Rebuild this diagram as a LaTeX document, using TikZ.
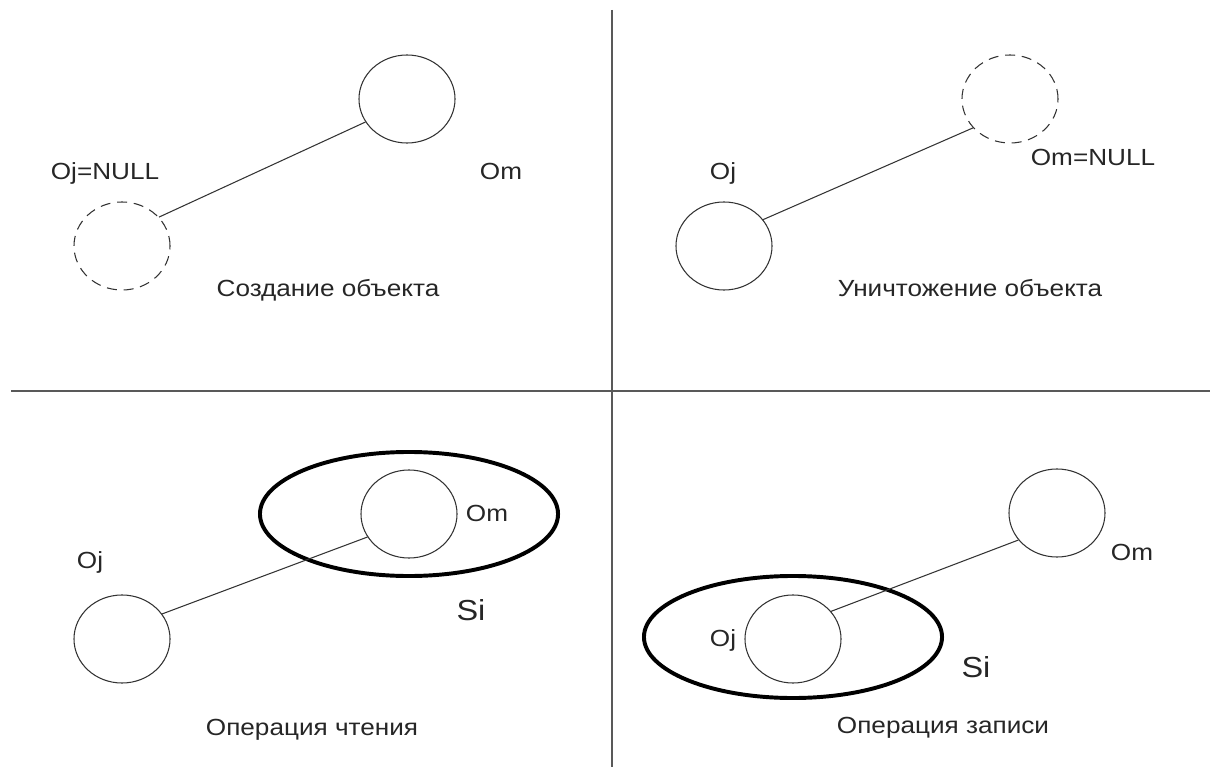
\documentclass[tikz,border=0pt]{standalone}
\usepackage{fontspec}
\setmainfont{Liberation Sans}[FakeStretch=1.12]
\usetikzlibrary{shapes.geometric,positioning}

\begin{document}
\begin{tikzpicture}[x=0.025cm, y=-0.025cm,
    obj/.style={ellipse, draw=black!80, line width=0.75pt, inner sep=0pt,
        minimum width=2.4cm, minimum height=2.2cm},
    nullobj/.style={obj, dash pattern=on 0.25cm off 0.17cm},
    setbox/.style={ellipse, draw=black, line width=2.8pt, inner sep=0pt,
        minimum width=7.45cm},
    link/.style={draw=black!80, line width=0.75pt},
    lbl/.style={anchor=base, inner sep=0pt, text=black!85,
        font=\fontsize{16.6}{20}\selectfont},
    setlbl/.style={lbl, font=\fontsize{20.6}{24}\selectfont},
    sep/.style={draw=black!65, line width=1.4pt}]
    \useasboundingbox (0,0) rectangle (1210,767);

    % Dividers
    \coordinate (hl) at (11,391);
    \coordinate (hr) at (1210,391);
    \coordinate (vt) at (612,10);
    \coordinate (vb) at (612,767);
    \draw[sep] (hl) -- (hr);
    \draw[sep] (vt) -- (vb);

    % Creation
    \node[nullobj] (ojA) at (122,246) {};
    \node[obj] (omA) at (407,99) {};
    \draw[link] (ojA.38) -- (omA.209);
    \node[lbl] (ojAl) at (105,180) {Oj=NULL};
    \node[lbl] (omAl) at (501,180) {Om};
    \node[lbl] (capA) at (328,296) {Создание объекта};

    % Destruction
    \node[obj] (ojB) at (724,246) {};
    \node[nullobj] (omB) at (1010,99) {};
    \draw[link] (ojB.34) -- (omB.218);
    \node[lbl] (ojBl) at (723,180) {Oj};
    \node[lbl] (omBl) at (1093,166) {Om=NULL};
    \node[lbl] (capB) at (970,296) {Уничтожение объекта};

    % Read
    \node[setbox, minimum height=3.1cm] (siC) at (409,514) {};
    \node[obj] (omC) at (409,514) {};
    \node[obj] (ojC) at (122,639) {};
    \draw[link] (ojC.32) -- (omC.209);
    \node[lbl] (omCl) at (487,521) {Om};
    \node[lbl] (ojCl) at (90,568) {Oj};
    \node[setlbl] (siCl) at (471,620) {Si};
    \node[lbl] (capC) at (312,735) {Операция чтения};

    % Write
    \node[setbox, minimum height=3.05cm] (siD) at (793,637) {};
    \node[obj] (ojD) at (793,639) {};
    \node[obj] (omD) at (1057,513) {};
    \draw[link] (ojD.36) -- (omD.215);
    \node[lbl] (omDl) at (1132,560) {Om};
    \node[lbl] (ojDl) at (723,646) {Oj};
    \node[setlbl] (siDl) at (976,677) {Si};
    \node[lbl] (capD) at (943,733) {Операция записи};
\end{tikzpicture}
\end{document}
